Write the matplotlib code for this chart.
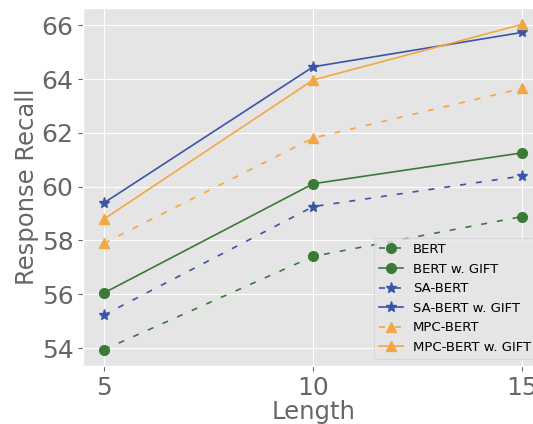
import numpy as np
import matplotlib
matplotlib.use('Agg')
import matplotlib.pyplot as plt

plt.style.use('ggplot')

# 数据
lengths = [5, 10, 15]
bert = [53.94, 57.41, 58.89]
bert_gift = [56.05, 60.11, 61.26]
sa_bert = [55.23, 59.26, 60.40]
sa_bert_gift = [59.40, 64.46, 65.74]
mpc_bert = [57.90, 61.81, 63.66]
mpc_bert_gift = [58.80, 63.97, 66.04]

green = '#3a7a37'
blue = '#3a55a6'
orange = '#f3a742'
dash = (3.6, 6)

fig = plt.figure(figsize=(5.33, 4.24), dpi=100)
ax = fig.add_axes([0.156, 0.137, 0.863, 0.844])

ax.plot(lengths, bert, '--', dashes=dash, color=green, marker='o', markersize=7, lw=1.2, label='BERT')
ax.plot(lengths, bert_gift, '-', color=green, marker='o', markersize=7, lw=1.2, label='BERT w. GIFT')
ax.plot(lengths, sa_bert, '--', dashes=dash, color=blue, marker='*', markersize=8, lw=1.2, label='SA-BERT')
ax.plot(lengths, sa_bert_gift, '-', color=blue, marker='*', markersize=8, lw=1.2, label='SA-BERT w. GIFT')
ax.plot(lengths, mpc_bert, '--', dashes=dash, color=orange, marker='^', markersize=7.5, lw=1.2, label='MPC-BERT')
ax.plot(lengths, mpc_bert_gift, '-', color=orange, marker='^', markersize=7.5, lw=1.2, label='MPC-BERT w. GIFT')

ax.set_xticks(lengths)
ax.set_yticks([54, 56, 58, 60, 62, 64, 66])
ax.tick_params(labelsize=18, colors='#666666')
ax.set_xlabel('Length', fontsize=17.5, color='#666666', labelpad=0)
ax.set_ylabel('Response Recall', fontsize=17.5, color='#666666', labelpad=2)
ax.legend(loc='lower right', fontsize=9.5, handlelength=1.8)

fig.savefig('out.png', dpi=100)
